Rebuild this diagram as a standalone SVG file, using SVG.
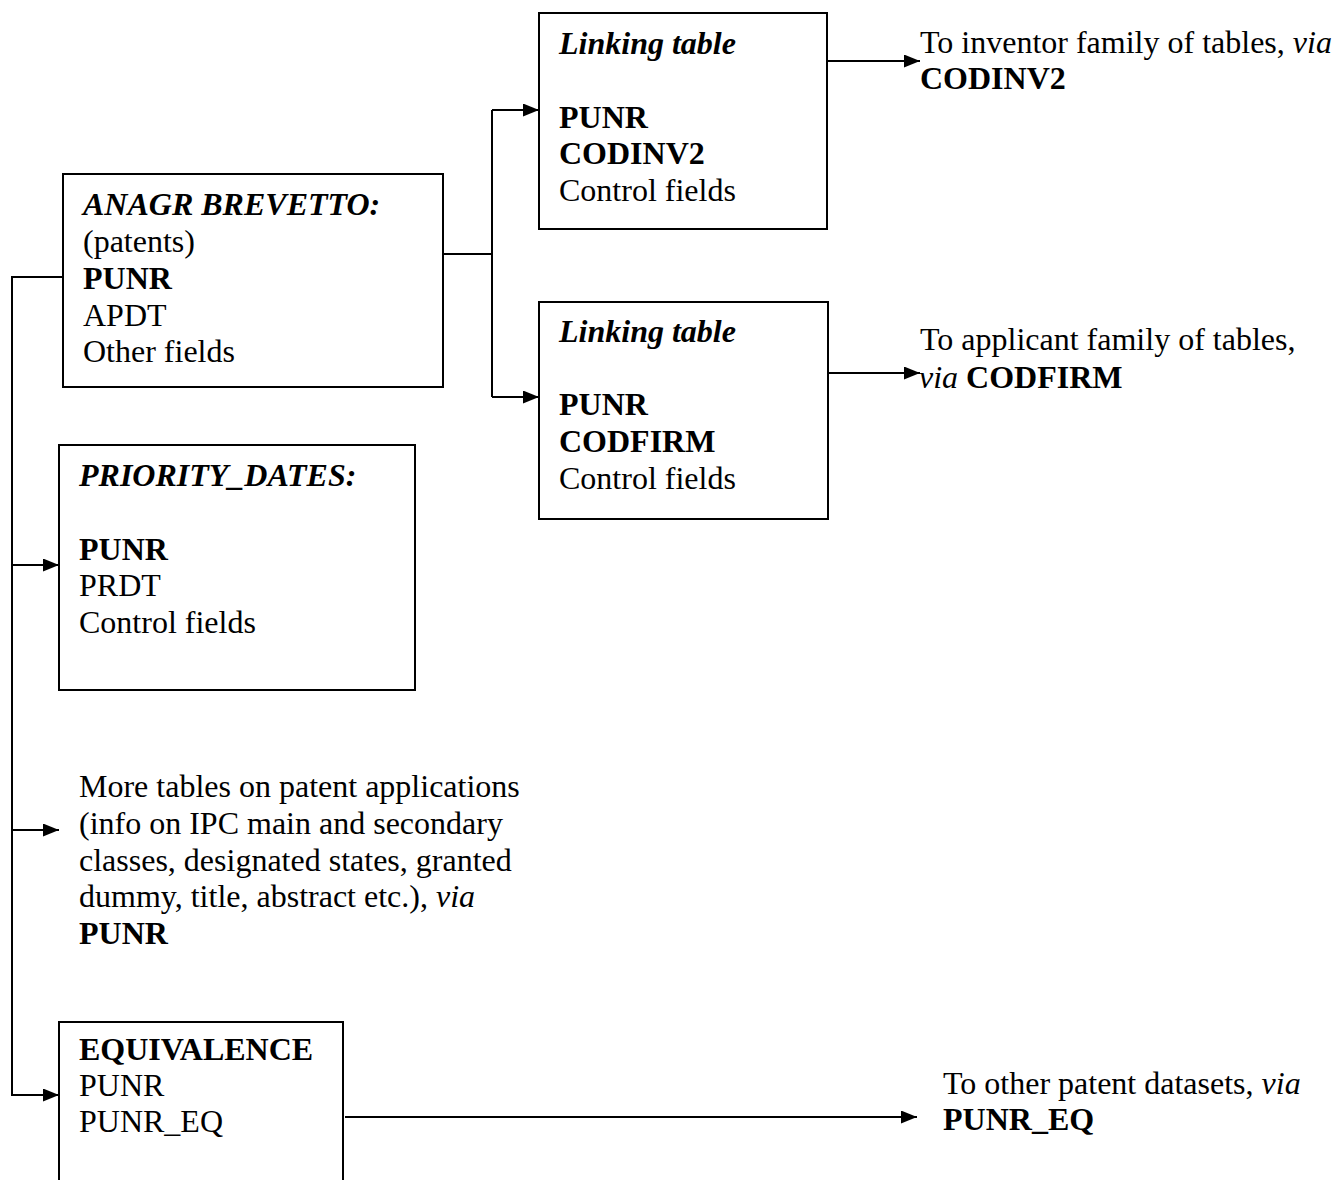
<svg xmlns="http://www.w3.org/2000/svg" width="1338" height="1180" viewBox="0 0 1338 1180">
  <style>
    .box { fill: #ffffff; stroke: #000000; stroke-width: 2; }
    .wire { fill: none; stroke: #000000; stroke-width: 2; }
    text { font-family: "Liberation Serif", "Times New Roman", serif; font-size: 32px; fill: #000000; }
    .b { font-weight: bold; }
    .i { font-style: italic; }
  </style>
  <defs>
    <marker id="arrow" markerUnits="userSpaceOnUse" markerWidth="16" markerHeight="13" refX="16" refY="6.5" orient="auto">
      <path d="M0,0 L16,6.5 L0,13 Z" fill="#000000"/>
    </marker>
  </defs>

  <rect width="1338" height="1180" fill="#ffffff"/>

  <!-- connectors -->
  <g id="connectors">
    <!-- left trunk from the patents table -->
    <path class="wire" d="M63,277 H12 V1095 H59" marker-end="url(#arrow)"/>
    <path class="wire" d="M12,565 H59" marker-end="url(#arrow)"/>
    <path class="wire" d="M12,830 H59" marker-end="url(#arrow)"/>
    <!-- fork to the two linking tables -->
    <path class="wire" d="M443,254 H492"/>
    <path class="wire" d="M492,110 V397"/>
    <path class="wire" d="M492,110 H539" marker-end="url(#arrow)"/>
    <path class="wire" d="M492,397 H539" marker-end="url(#arrow)"/>
    <!-- outgoing links -->
    <path class="wire" d="M827,61 H920" marker-end="url(#arrow)"/>
    <path class="wire" d="M828,373 H920" marker-end="url(#arrow)"/>
    <path class="wire" d="M345,1117 H917" marker-end="url(#arrow)"/>
  </g>

  <!-- patents table -->
  <g id="anagr-brevetto">
    <rect class="box" x="63" y="174" width="380" height="213"/>
    <text x="83" y="215" class="b i">ANAGR BREVETTO:</text>
    <text x="83" y="252">(patents)</text>
    <text x="83" y="289" class="b">PUNR</text>
    <text x="83" y="326">APDT</text>
    <text x="83" y="362">Other fields</text>
  </g>

  <!-- inventor linking table -->
  <g id="linking-inventor">
    <rect class="box" x="539" y="13" width="288" height="216"/>
    <text x="559" y="54" class="b i">Linking table</text>
    <text x="559" y="128" class="b">PUNR</text>
    <text x="559" y="164" class="b">CODINV2</text>
    <text x="559" y="201">Control fields</text>
  </g>

  <!-- applicant linking table -->
  <g id="linking-applicant">
    <rect class="box" x="539" y="302" width="289" height="217"/>
    <text x="559" y="342" class="b i">Linking table</text>
    <text x="559" y="415" class="b">PUNR</text>
    <text x="559" y="452" class="b">CODFIRM</text>
    <text x="559" y="489">Control fields</text>
  </g>

  <!-- inventor destination -->
  <g id="to-inventor">
    <text x="920" y="53">To inventor family of tables, <tspan class="i">via</tspan></text>
    <text x="920" y="89" class="b">CODINV2</text>
  </g>

  <!-- applicant destination -->
  <g id="to-applicant">
    <text x="920" y="350">To applicant family of tables,</text>
    <text x="919" y="388"><tspan class="i">via</tspan> <tspan class="b">CODFIRM</tspan></text>
  </g>

  <!-- priority dates table -->
  <g id="priority-dates">
    <rect class="box" x="59" y="445" width="356" height="245"/>
    <text x="79" y="486" class="b i">PRIORITY_DATES:</text>
    <text x="79" y="560" class="b">PUNR</text>
    <text x="79" y="596">PRDT</text>
    <text x="79" y="633">Control fields</text>
  </g>

  <!-- further application tables -->
  <g id="more-tables">
    <text x="79" y="797">More tables on patent applications</text>
    <text x="79" y="834">(info on IPC main and secondary</text>
    <text x="79" y="871">classes, designated states, granted</text>
    <text x="79" y="907">dummy, title, abstract etc.), <tspan class="i">via</tspan></text>
    <text x="79" y="944" class="b">PUNR</text>
  </g>

  <!-- equivalence table (runs off the page bottom) -->
  <g id="equivalence">
    <rect class="box" x="59" y="1022" width="284" height="200"/>
    <text x="79" y="1060" class="b">EQUIVALENCE</text>
    <text x="79" y="1096">PUNR</text>
    <text x="79" y="1132">PUNR_EQ</text>
  </g>

  <!-- other datasets destination -->
  <g id="to-other-datasets">
    <text x="943" y="1094">To other patent datasets, <tspan class="i">via</tspan></text>
    <text x="943" y="1130" class="b">PUNR_EQ</text>
  </g>
</svg>
